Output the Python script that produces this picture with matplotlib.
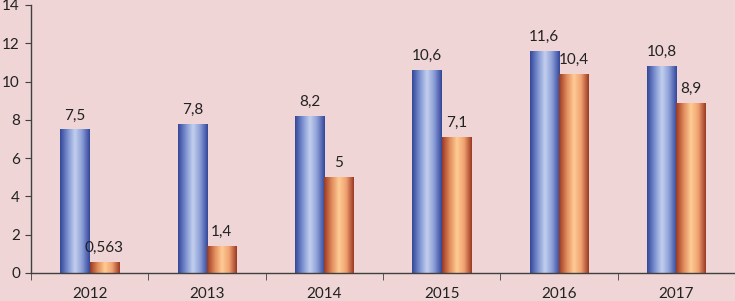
import numpy as np
import matplotlib
matplotlib.use('Agg')
from matplotlib import pyplot as plt
from matplotlib.colors import LinearSegmentedColormap

years = ['2012', '2013', '2014', '2015', '2016', '2017']
series_a = [7.5, 7.8, 8.2, 10.6, 11.6, 10.8]
series_b = [0.563, 1.4, 5, 7.1, 10.4, 8.9]
labels_a = ['7,5', '7,8', '8,2', '10,6', '11,6', '10,8']
labels_b = ['0,563', '1,4', '5', '7,1', '10,4', '8,9']

BG = '#efd5d5'
plt.rcParams['font.family'] = ['Lato', 'DejaVu Sans']

blue_cm = LinearSegmentedColormap.from_list('b', ['#34489a', '#7b90d0', '#c4d0ee', '#8a9cd6', '#34489a'])
orng_cm = LinearSegmentedColormap.from_list('o', ['#9c3a24', '#e08a5a', '#ffcc94', '#f0a070', '#9c3a24'])

fig = plt.figure(figsize=(7.35, 3.01), dpi=100, facecolor=BG)
ax = fig.add_axes([31/735, 28/301, 704/735, 268/301], facecolor=BG)

x = np.arange(len(years))
w = 0.25
bars_a = ax.bar(x - w/2, series_a, w, color='none', zorder=2)
bars_b = ax.bar(x + w/2, series_b, w, color='none', zorder=2)

grad = np.linspace(0, 1, 64).reshape(1, -1)
def Fill_Gradient(Bars, Cmap):
	for r in Bars:
		x0, y0 = r.get_x(), r.get_y()
		im = ax.imshow(grad, cmap=Cmap, aspect='auto', zorder=2,
			extent=(x0, x0 + r.get_width(), y0, y0 + r.get_height()))
		im.set_clip_path(r)

Fill_Gradient(bars_a, blue_cm)
Fill_Gradient(bars_b, orng_cm)

for r, t in zip(bars_a, labels_a):
	ax.annotate(t, (r.get_x() + r.get_width()/2, r.get_height()), xytext=(0, 5),
		textcoords='offset points', ha='center', va='bottom', fontsize=11, color='#222222')
for r, t in zip(bars_b, labels_b):
	ax.annotate(t, (r.get_x() + r.get_width()/2, r.get_height()), xytext=(0, 5),
		textcoords='offset points', ha='center', va='bottom', fontsize=11, color='#222222')

ax.set_xlim(-0.5, len(years) - 0.5)
ax.set_ylim(0, 14)
ax.set_yticks(np.arange(0, 15, 2))
ax.set_xticks(x)
ax.set_xticklabels(years)
ax.set_xticks(np.arange(-0.5, len(years), 1), minor=True)
ax.tick_params(axis='x', which='major', length=0, pad=10, labelsize=11, colors='#222222')
ax.tick_params(axis='x', which='minor', length=5, direction='out', color='#404040')
ax.tick_params(axis='y', length=4, direction='out', color='#404040', labelsize=11, labelcolor='#222222', pad=4)
for s in ['top', 'right']:
	ax.spines[s].set_visible(False)
for s in ['left', 'bottom']:
	ax.spines[s].set_color('#404040')
	ax.spines[s].set_linewidth(1.0)

fig.savefig('out.png', dpi=100, facecolor=BG)
